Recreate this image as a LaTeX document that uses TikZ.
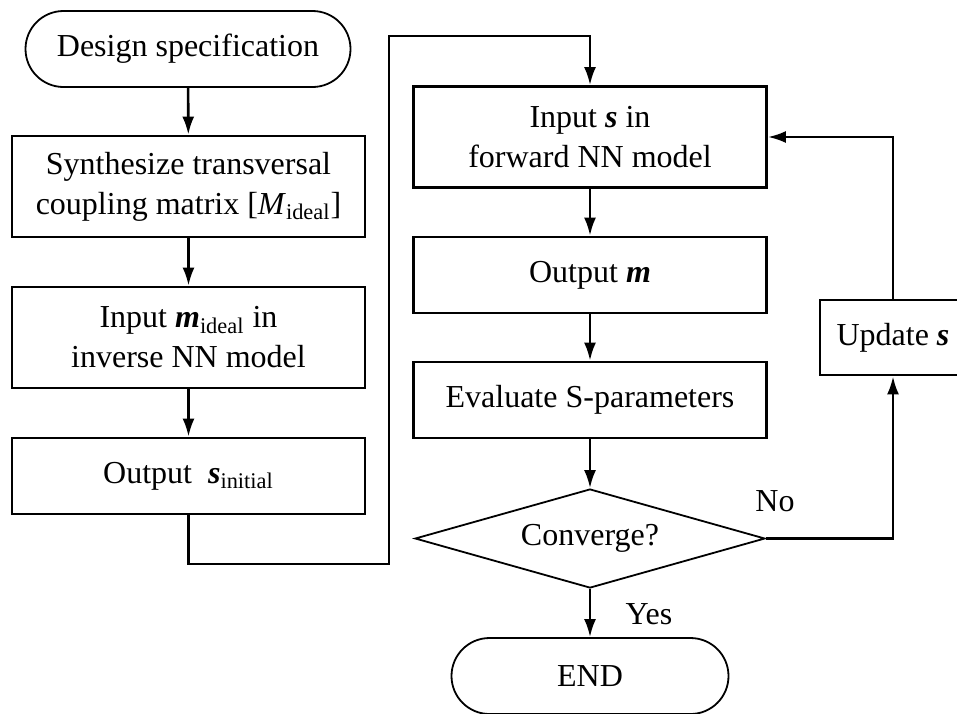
\documentclass[tikz,border=0pt]{standalone}
\usepackage{fontspec}
\setmainfont{Liberation Serif}
\usetikzlibrary{arrows.meta, shapes.geometric}

\newcommand{\bvec}[1]{\textbf{\textit{#1}}}

\begin{document}
\begin{tikzpicture}[
    x=0.5pt, y=-0.5pt,
    every node/.style={font=\fontsize{16}{20}\selectfont, align=center, inner sep=0pt},
    box/.style={draw, line width=1.4pt, rectangle, minimum width=176.5pt, minimum height=50.5pt},
    shortbox/.style={box, minimum height=38pt},
    terminal/.style={draw, line width=0.9pt, rectangle, rounded corners=19pt, minimum height=38pt},
    decision/.style={draw, line width=0.9pt, diamond, aspect=3.54, minimum width=175pt, minimum height=49.5pt},
    flow/.style={line width=1.3pt, -{Latex[length=9pt, width=6pt]}},
    >=latex
]

% Page frame (the right box runs past the edge)
\clip (0,0) rectangle (957,713);

% Left column
\node[terminal, minimum width=162.5pt] (spec) at (188,49) {Design specification};
\node[box] (synth) at (188.5,186.5) {Synthesize transversal\\coupling matrix [\textit{M}\textsubscript{ideal}]};
\node[box] (inv) at (188.5,337.5) {Input \bvec{m}\textsubscript{ideal} in\\inverse NN model};
\node[shortbox] (sinit) at (188.5,476) {Output \ \bvec{s}\textsubscript{initial}};

% Right column
\node[box] (fwd) at (590,137) {Input \bvec{s} in\\forward NN model};
\node[shortbox] (outm) at (590,275) {Output \bvec{m}};
\node[shortbox] (eval) at (590,400) {Evaluate S-parameters};
\node[decision] (conv) at (590,538.5) {Converge?};
\node[terminal, minimum width=138.5pt] (finish) at (590,676) {END};

% Update step
\node[draw, line width=1.4pt, minimum width=73pt, minimum height=37.5pt] (upd) at (893,337.5) {Update \bvec{s}};

% Bends of the long connector
\coordinate (lowbend) at (389,564);
\coordinate (topbend) at (389,36);

% Connections
\draw[flow] (spec) -- (synth);
\draw[flow] (synth) -- (inv);
\draw[flow] (inv) -- (sinit);
\draw[flow] (sinit.south) |- (lowbend) -- (topbend) -| (fwd.north);
\draw[flow] (fwd) -- (outm);
\draw[flow] (outm) -- (eval);
\draw[flow] (eval) -- (conv);
\draw[flow] (conv) -- (finish);
\draw[flow] (conv.east) -| (upd.south);
\draw[flow] (upd.north) |- (fwd.east);

% Branch labels
\node (no) at (775,501) {No};
\node (yes) at (649,614) {Yes};

\end{tikzpicture}
\end{document}
